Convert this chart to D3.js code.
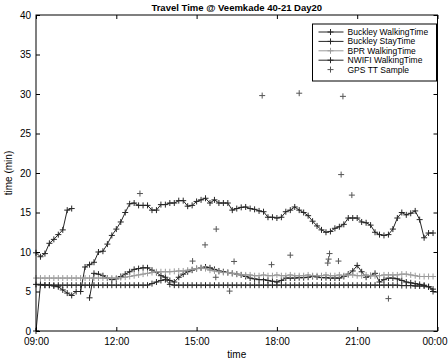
<!DOCTYPE html>
<html>
<head>
<meta charset="utf-8">
<script src="https://cdn.jsdelivr.net/npm/d3@7"></script>
<style>
  body { margin: 0; background: #fff; }
  text { font-family: "Liberation Sans", Arial, sans-serif; fill: #000; }
</style>
</head>
<body>
<div id="chart"></div>
<script>
// minutes after 09:00, one sample every 10 minutes
const sampleMinutes = d3.range(0, 900, 10);

const buckleyWalking = [
  5.9, 5.9, 5.8, 5.8, 5.7, 5.6, 5.2, 4.8, 4.5, 5.0,
  5.0, 8.1, 8.4, 8.7, 10.0, 10.1, 11.0, 12.1, 12.9, 13.8,
  15.0, 16.1, 16.2, 15.9, 15.9, 15.9, 15.3, 15.3, 16.0, 16.0,
  16.2, 16.2, 16.5, 16.5, 15.8, 15.9, 16.4, 16.6, 16.8, 16.2,
  16.6, 16.2, 16.2, 16.2, 15.3, 15.5, 15.65, 15.7, 15.5, 15.4,
  15.2, 15.1, 14.4, 14.4, 14.3, 14.4, 15.1, 15.3, 15.7, 15.3,
  15.0, 14.6, 13.9, 13.3, 12.8, 12.5, 12.6, 13.0, 13.2, 13.5,
  14.3, 14.3, 14.3, 13.8, 13.7, 13.4, 12.5, 12.2, 12.1, 12.2,
  12.9, 14.3, 15.0, 14.7, 14.9, 15.2, 14.1, 11.8, 12.4, 12.4
];

const buckleyStay = [
  9.9, 9.4, 9.8, 11.1, 11.6, 12.2, 12.8, 15.3, 15.5, null,
  null, null, 4.2, 7.3, 7.2, 7.0, 6.7, 6.5, 6.6, 6.9,
  7.2, 7.5, 7.8, 7.9, 8.0, 8.0, 7.7, 7.4, 7.0, 6.8,
  6.4, 6.2, 6.8, 7.2, 7.5, 7.7, 7.9, 8.0, 8.1, 8.0,
  7.8, 7.6, 7.5, 7.4, 7.3, 7.2, 7.1, 6.9, 6.7, 6.6,
  6.5, 6.5, 6.4, 6.3, 6.2, 6.4, 6.7, 6.7, 6.7, 6.75,
  6.75, 6.8, 6.9, 6.85, 6.75, 6.75, 6.7, 6.7, 6.7, 6.9,
  7.2, 7.6, 8.3, 7.5, 6.8, 7.0, 7.3, 6.2, 6.5, 6.7,
  6.7, 6.6, 6.4, 6.2, 6.1, 6.0, 5.9, 5.8, 5.6, 5.0
];

const bprWalking = [
  6.7, 6.7, 6.7, 6.7, 6.7, 6.7, 6.7, 6.7, 6.7, 6.7,
  6.7, 6.7, 6.7, 6.7, 6.7, 6.7, 6.7, 6.7, 6.7, 6.75,
  6.8, 6.9, 7.0, 7.1, 7.2, 7.3, 7.4, 7.5, 7.5, 7.5,
  7.5, 7.55, 7.6, 7.6, 7.7, 7.8, 7.9, 8.0, 7.9, 7.7,
  7.6, 7.5, 7.4, 7.4, 7.3, 7.2, 7.1, 7.1, 7.1, 7.0,
  7.0, 7.1, 7.0, 7.0, 7.1, 7.0, 7.0, 7.1, 7.0, 7.0,
  7.0, 7.1, 7.0, 7.0, 7.0, 7.1, 7.0, 7.0, 7.1, 7.0,
  7.1, 7.1, 7.0, 7.0, 7.1, 7.0, 7.0, 7.0, 7.1, 7.1,
  7.1, 7.1, 7.2, 7.2, 7.1, 7.0, 6.9, 6.9, 6.9, 6.9
];

const nwifiWalking = [
  0, 5.8, 5.8, 5.8, 5.8, 5.8, 5.8, 5.8, 5.8, 5.8,
  5.8, 5.8, 5.8, 5.8, 5.8, 5.8, 5.8, 5.8, 5.8, 5.8,
  5.8, 5.8, 5.8, 5.8, 5.8, 5.8, 6.0, 6.2, 6.4, 6.5,
  5.9, 5.8, 5.8, 5.8, 5.8, 5.8, 5.8, 5.8, 5.8, 5.8,
  5.8, 5.8, 5.8, 5.8, 5.8, 5.8, 5.8, 5.8, 5.8, 5.8,
  5.8, 5.8, 5.8, 5.8, 5.8, 5.8, 5.8, 5.8, 5.8, 5.8,
  5.8, 5.8, 5.8, 5.8, 5.8, 5.8, 5.8, 5.8, 5.8, 5.8,
  5.8, 5.8, 5.8, 5.8, 5.8, 5.8, 5.8, 5.8, 5.8, 5.8,
  5.8, 5.8, 5.75, 5.75, 5.75, 5.7, 5.7, 5.7, 5.6, 5.3
];

const gpsMinutes = [233, 351, 379, 404, 403, 434, 444, 507, 528, 570, 590, 654, 656, 658, 678, 684, 688, 708, 790];
const gpsValues  = [17.4, 8.85, 10.9, 12.9, 6.8, 5.05, 8.8, 29.8, 8.4, 9.6, 30.1, 8.6, 9.1, 9.8, 8.85, 19.8, 29.7, 17.2, 4.1];

const xTickMinutes = [0, 180, 360, 540, 720, 900];
const xTickLabels = ['09:00', '12:00', '15:00', '18:00', '21:00', '00:00'];
const yTicks = [0, 5, 10, 15, 20, 25, 30, 35, 40];

const seriesNames = ['Buckley WalkingTime', 'Buckley StayTime', 'BPR WalkingTime', 'NWIFI WalkingTime'];
const seriesData = [buckleyWalking, buckleyStay, bprWalking, nwifiWalking];
const seriesColors = ['#262626', '#262626', '#9a9a9a', '#262626'];
const gpsColor = '#555';

const width = 448, height = 363;
const margin = {left: 36, right: 10.5, top: 15, bottom: 32};
const plotW = width - margin.left - margin.right;
const plotH = height - margin.top - margin.bottom;

const svg = d3.select('#chart').append('svg')
  .attr('width', width)
  .attr('height', height);

const x = d3.scaleLinear().domain([0, 900]).range([margin.left, margin.left + plotW]);
const y = d3.scaleLinear().domain([0, 40]).range([margin.top + plotH, margin.top]);

const plus = 'M-3,0H3M0,-3V3';

// series
seriesData.forEach((vals, i) => {
  const pts = sampleMinutes.map((m, j) => ({m: m, v: vals[j]}));
  const line = d3.line()
    .defined(d => d.v !== null)
    .x(d => x(d.m))
    .y(d => y(d.v));
  const g = svg.append('g');
  g.append('path')
    .datum(pts)
    .attr('fill', 'none')
    .attr('stroke', seriesColors[i])
    .attr('stroke-width', 1)
    .attr('d', line);
  g.selectAll('path.mk')
    .data(pts.filter(d => d.v !== null))
    .enter()
    .append('path')
    .attr('class', 'mk')
    .attr('transform', d => `translate(${x(d.m)},${y(d.v)})`)
    .attr('d', plus)
    .attr('stroke', seriesColors[i])
    .attr('stroke-width', 1);
});

// gps samples
svg.append('g').selectAll('path')
  .data(gpsMinutes.map((m, i) => ({m: m, v: gpsValues[i]})))
  .enter()
  .append('path')
  .attr('transform', d => `translate(${x(d.m)},${y(d.v)})`)
  .attr('d', plus)
  .attr('stroke', gpsColor)
  .attr('stroke-width', 1);

// axes, MATLAB style box with inward ticks
const x0 = margin.left, x1 = margin.left + plotW, y0 = margin.top + plotH, y1 = margin.top;
const tickLen = 4;

svg.append('g')
  .attr('transform', `translate(0,${y0})`)
  .call(d3.axisBottom(x).tickValues(xTickMinutes).tickSizeInner(-tickLen).tickSizeOuter(0)
    .tickFormat((d, i) => xTickLabels[i]))
  .call(g => g.select('.domain').remove())
  .call(g => g.selectAll('text').attr('dy', '0').attr('y', 14).style('font-size', '10px'))
  .call(g => g.selectAll('.tick:last-of-type text').attr('text-anchor', 'end').attr('x', 447 - x1));

svg.append('g')
  .attr('transform', `translate(0,${y1})`)
  .call(d3.axisTop(x).tickValues(xTickMinutes).tickSizeInner(-tickLen).tickSizeOuter(0).tickFormat(''))
  .call(g => g.select('.domain').remove());

svg.append('g')
  .attr('transform', `translate(${x0},0)`)
  .call(d3.axisLeft(y).tickValues(yTicks).tickSizeInner(-tickLen).tickSizeOuter(0).tickFormat(d3.format('d')))
  .call(g => g.select('.domain').remove())
  .call(g => g.selectAll('text').attr('x', -5).style('font-size', '10px'));

svg.append('g')
  .attr('transform', `translate(${x1},0)`)
  .call(d3.axisRight(y).tickValues(yTicks).tickSizeInner(-tickLen).tickSizeOuter(0).tickFormat(''))
  .call(g => g.select('.domain').remove());

svg.selectAll('.tick line').attr('stroke', '#000');

svg.append('rect')
  .attr('x', x0).attr('y', y1)
  .attr('width', plotW).attr('height', plotH)
  .attr('fill', 'none')
  .attr('stroke', '#000')
  .attr('stroke-width', 1);

// title and labels
svg.append('text')
  .attr('x', (x0 + x1) / 2)
  .attr('y', 11)
  .attr('text-anchor', 'middle')
  .style('font-size', '9.5px')
  .style('font-weight', 'bold')
  .text('Travel Time @ Veemkade 40-21 Day20');

svg.append('text')
  .attr('x', (x0 + x1) / 2)
  .attr('y', 358)
  .attr('text-anchor', 'middle')
  .style('font-size', '10px')
  .text('time');

svg.append('text')
  .attr('transform', `translate(12,${(y0 + y1) / 2}) rotate(-90)`)
  .attr('text-anchor', 'middle')
  .style('font-size', '10px')
  .text('time (min)');

// legend
const legend = svg.append('g').attr('transform', 'translate(312.5,24)');
legend.append('rect')
  .attr('width', 124).attr('height', 57)
  .attr('fill', '#fff')
  .attr('stroke', '#000')
  .attr('stroke-width', 1);

const legendNames = seriesNames.concat(['GPS TT Sample']);
const legendColors = seriesColors.concat([gpsColor]);
legendNames.forEach((name, i) => {
  const ly = 8 + i * 9.4;
  const row = legend.append('g').attr('transform', `translate(0,${ly})`);
  if (i < 4) {
    row.append('line')
      .attr('x1', 6).attr('x2', 31)
      .attr('stroke', legendColors[i]);
  }
  row.append('path')
    .attr('transform', 'translate(18,0)')
    .attr('d', plus)
    .attr('stroke', legendColors[i]);
  row.append('text')
    .attr('x', 35)
    .attr('y', 3)
    .style('font-size', '8.5px')
    .text(name);
});
</script>
</body>
</html>
